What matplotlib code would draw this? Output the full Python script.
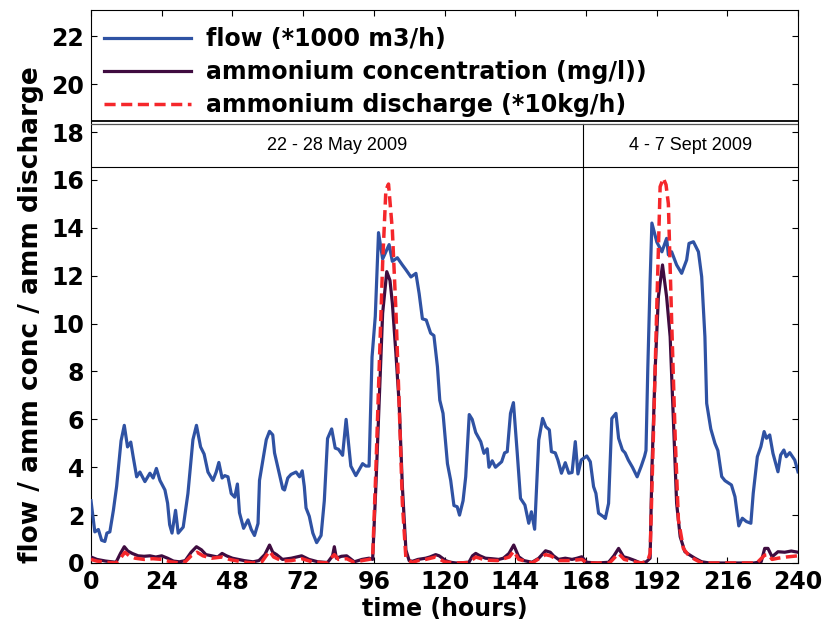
import matplotlib
matplotlib.use("Agg")
import matplotlib.pyplot as plt

# ---------------- data ----------------
flow_t = [0, 1.3, 2.5, 3.6, 4.7, 5.4, 6.4, 7.6, 8.7, 10.2, 11.3, 12.4, 13.5, 14.3, 15.5,
          16.6, 18.3, 20, 21.1, 22.2, 23.4, 25.1, 26, 26.7, 27.5, 28.7, 29.6, 31.3, 32.9,
          34.6, 35.8, 37.2, 38.4, 39.7, 41.4, 42.5, 43.4, 44.5, 45.4, 46.5, 47.6, 48.8,
          49.7, 50.4, 51.8, 53.3, 54.4, 55.5, 56.7, 57.2, 59.5, 60.6, 61.7, 62.3, 63.8,
          65.1, 65.7, 66.8, 67.9, 69.6, 70.8, 71.7, 72.4, 73, 74.1, 75.3, 76.6, 78.1,
          79.2, 80.3, 81.7, 82.9, 84, 85.4, 86.6, 88.2, 89.9, 92.2, 93.3, 94.4, 95.4,
          96.5, 97.6, 99, 100.1, 101.2, 102.3, 104, 105.7, 106.9, 108.6, 110.3, 111.4,
          112.5, 113.8, 115.3, 116.4, 117.6, 118.4, 119.5, 121, 122.1, 123.2, 124.3,
          125.1, 126.3, 127.2, 128.4, 129.4, 130.6, 132.3, 133.4, 134.5, 135.1, 136.2,
          137.3, 139.4, 140.4, 141.3, 142.4, 143.4, 144.7, 145.8, 147.3, 148.6, 149.5,
          150.6, 152, 153.3, 154.4, 155.6, 156.3, 157.6, 158.5, 159.7, 161, 162.2, 163.3,
          164.4, 165.3, 166.4, 168.3, 169.5, 170.6, 171.4, 172.3, 174, 174.6, 175.7,
          176.8, 178.2, 179.1, 180.4, 181.3, 182.4, 183.8, 185.4, 186.8, 187.9, 188.4,
          189, 189.8, 190.4, 192.1, 193.8, 195.4, 196, 197.1, 198.8, 200.5, 202.2, 203,
          204.5, 206.2, 207.3, 208.4, 209, 210.4, 211.8, 212.8, 214.1, 215.2, 217.4,
          218.6, 219.9, 221.1, 222.5, 224, 224.8, 226.2, 227.4, 228.5, 229.3, 230.4,
          231.5, 233.2, 234.1, 235.2, 236, 237.2, 238.9, 240]
flow_v = [2.6, 1.3, 1.4, 0.95, 0.9, 1.25, 1.3, 2.2, 3.2, 5.1, 5.75, 4.85, 5.05, 4.45, 3.6,
          3.8, 3.4, 3.75, 3.55, 3.95, 3.45, 3.05, 2.5, 1.6, 1.25, 2.2, 1.25, 1.5, 2.9,
          5.15, 5.75, 4.85, 4.55, 3.8, 3.45, 3.8, 4.2, 3.55, 3.65, 3.6, 2.9, 2.75,
          3.3, 2.1, 1.45, 1.8, 1.4, 1.15, 1.65, 3.45, 5.15, 5.5, 5.35, 4.6, 3.8,
          3.1, 3.05, 3.55, 3.7, 3.8, 3.6, 3.85, 3.2, 2.3, 1.95, 1.25, 0.85, 1.15,
          2.6, 5.2, 5.6, 4.8, 4.75, 4.5, 6.0, 4.05, 3.65, 4.15, 4.05, 4.05, 8.6,
          10.3, 13.8, 12.7, 13.0, 13.3, 12.6, 12.75, 12.45, 12.25, 11.95, 12.1, 11.25,
          10.2, 10.15, 9.6, 9.5, 8.2, 6.8, 6.25, 4.15, 3.45, 2.4, 2.35,
          2.0, 2.6, 3.6, 6.2, 6.0, 5.45, 5.07, 4.58, 4.77, 4.0, 4.27,
          4.0, 4.23, 4.6, 4.65, 6.25, 6.7, 4.58, 2.7, 2.42, 1.66, 2.14,
          1.41, 5.14, 6.04, 5.69, 5.56, 4.65, 4.6, 4.3, 3.75, 4.19, 3.75, 3.78,
          5.07, 3.72, 4.3, 4.47, 4.23, 3.19, 2.91, 2.08, 1.93, 1.86, 2.49,
          6.04, 6.25, 5.21, 4.72, 4.6, 4.3, 4.0, 3.6, 4.05, 4.45, 4.7,
          8.06, 11.8, 14.2, 13.4, 13.0, 13.56, 12.87, 13.0, 12.45, 12.1, 12.66, 13.35,
          13.42, 13.0, 11.96, 9.45, 6.67, 5.6, 5.0, 4.7, 3.61, 3.44, 3.26,
          2.77, 1.55, 1.87, 1.73, 1.66, 2.91, 4.44, 4.86, 5.49, 5.21, 5.35,
          4.58, 3.81, 4.51, 4.72, 4.44, 4.61, 4.3, 3.81]

conc_t = [0, 2, 5, 8.5, 10, 11.3, 12.5, 14, 16, 18, 20, 22, 24, 26, 28, 30, 32, 34, 35.8,
          37.5, 39, 41, 43, 44.5, 46, 48, 50, 52, 55, 57, 59, 60.6, 61.7, 63, 65, 68, 71.5,
          74, 77, 80.3, 82, 82.6, 83.3, 85, 86.8, 89.4, 92, 94.4, 95.6, 96.7, 97.8, 99,
          100.4, 101.5, 102.3, 103.5, 104.6, 105.7, 106.9, 108, 109.1, 111, 113.6, 115,
          117, 118.2, 120.4, 122, 124, 128.3, 129.5, 130.6, 132, 133.9, 136, 138.4, 140,
          141.9, 143.5, 145.2, 147, 149.7, 152, 154.3, 155.9, 157, 158.7, 161, 163.3, 165,
          166.6, 168.3, 172, 175.7, 177.5, 179.1, 180.8, 182.5, 184.7, 186.5, 188.5, 189.8,
          190.4, 191.5, 192.6, 194, 195.4, 196.6, 197.7, 198.8, 200, 201.6, 203.3, 205,
          207.3, 210, 215, 220, 225, 227.5, 228.7, 229.8, 231.2, 233.2, 235.5, 237.7, 240]
conc_v = [0.25, 0.15, 0.08, 0.03, 0.4, 0.68, 0.5, 0.4, 0.3, 0.28, 0.3, 0.25, 0.3, 0.2, 0.08,
          0.05, 0.1, 0.45, 0.68, 0.55, 0.35, 0.3, 0.25, 0.4, 0.3, 0.2, 0.15, 0.1, 0.05, 0.1,
          0.35, 0.75, 0.45, 0.35, 0.15, 0.2, 0.3, 0.15, 0.05, 0.02, 0.3, 0.68, 0.2, 0.28,
          0.3, 0.05, 0.15, 0.2, 0.15, 3.19, 6.67, 10.43, 12.17, 11.8, 10.85, 8.76, 6.67,
          3.19, 0.54, 0.1, 0.07, 0.15, 0.2, 0.25, 0.35, 0.3, 0.1, 0.03, 0.0, 0.03, 0.3,
          0.4, 0.3, 0.2, 0.18, 0.15, 0.2, 0.4, 0.75, 0.26, 0.1, 0.03, 0.2, 0.51, 0.45, 0.3,
          0.15, 0.2, 0.15, 0.2, 0.26, 0.03, 0.0, 0.03, 0.3, 0.61, 0.26, 0.2, 0.1, 0.0, 0.05,
          0.2, 3.88, 8.06, 11.12, 12.45, 11.12, 9.45, 5.97, 2.49, 1.1, 0.47, 0.33, 0.2,
          0.05, 0.0, 0.0, 0.0, 0.0, 0.05, 0.61, 0.61, 0.26, 0.47, 0.45, 0.5, 0.45]

disc_t = [0, 2, 5, 8.5, 10, 11.5, 13, 15, 18, 21, 24, 27, 30, 32, 34, 36, 38, 41, 44.5, 47,
          51, 55, 58, 60.6, 62, 65, 68, 71.5, 75, 80, 82.6, 84, 86.8, 89.4, 92, 94.4, 95.6,
          96.7, 97.8, 99, 100.1, 101, 102.3, 103.5, 104.6, 105.7, 106.9, 109, 111, 113.6,
          117, 120, 124, 128.3, 130.6, 134, 138, 142, 143.5, 145.2, 149.7, 154.3, 156, 159,
          163, 166.6, 168.3, 176, 179.1, 181, 184.7, 187, 189, 189.8, 190.9, 192.1, 193.2,
          194.3, 195.2, 196, 197.1, 198.3, 199.4, 201.1, 203, 205, 207, 210, 218, 226,
          228.7, 230, 231.2, 233.2, 236, 240]
disc_v = [0.15, 0.08, 0.03, 0.0, 0.2, 0.45, 0.3, 0.2, 0.15, 0.18, 0.15, 0.05, 0.0, 0.05,
          0.3, 0.45, 0.3, 0.2, 0.25, 0.15, 0.05, 0.0, 0.05, 0.5, 0.25, 0.08, 0.1, 0.18,
          0.05, 0.0, 0.35, 0.15, 0.18, 0.02, 0.1, 0.15, 0.2, 3.88, 8.06, 12.52, 15.58,
          15.83, 13.9, 10.57, 6.67, 2.49, 0.2, 0.02, 0.1, 0.15, 0.25, 0.05, 0.0, 0.02,
          0.25, 0.12, 0.1, 0.25, 0.5, 0.15, 0.0, 0.35, 0.3, 0.1, 0.1, 0.15, 0.0, 0.0,
          0.4, 0.15, 0.05, 0.0, 0.1, 0.4, 5.28, 10.85, 15.72, 16.07, 15.8, 15.0, 10.15,
          5.28, 1.8, 0.6, 0.3, 0.15, 0.02, 0.0, 0.0, 0.0, 0.33, 0.35, 0.15, 0.2, 0.25, 0.3]

series_labels = ["flow (*1000 m3/h)", "ammonium concentration (mg/l))",
                 "ammonium discharge (*10kg/h)"]
period_labels = ["22 - 28 May 2009", "4 - 7 Sept 2009"]
period_bounds = [0, 167, 240]
x_ticks = list(range(0, 241, 24))
y_ticks = list(range(0, 23, 2))

# ---------------- figure ----------------
fig = plt.figure(figsize=(8.26, 6.28), dpi=100)
ax = fig.add_axes([91 / 826, 1 - 563 / 628, 707 / 826, 553 / 628])

c_flow = "#2f52a3"
c_conc = "#3f0c40"
c_disc = "#f5272b"

ax.plot(flow_t, flow_v, color=c_flow, lw=2.3, label=series_labels[0], zorder=3)
ax.plot(conc_t, conc_v, color=c_conc, lw=2.3, label=series_labels[1], zorder=4)
ax.plot(disc_t, disc_v, color=c_disc, lw=2.5, ls=(0, (3.2, 1.6)),
        label=series_labels[2], zorder=5)

ax.set_xlim(0, 240)
ax.set_ylim(0, 23.1)
ax.set_xticks(x_ticks)
ax.set_yticks(y_ticks)
ax.tick_params(direction="in", length=4, width=0.8, top=True, right=True,
               labelsize=17, pad=5)
for lab in ax.get_xticklabels() + ax.get_yticklabels():
    lab.set_fontweight("bold")

# header band lines
ax.axhline(18.46, color="black", lw=1.3, zorder=6)
ax.axhline(18.32, color="#555555", lw=0.9, zorder=6)
ax.axhline(16.55, color="black", lw=0.8, zorder=6)
ax.plot([period_bounds[1], period_bounds[1]], [0, 18.32], color="black", lw=0.8, zorder=2)

for i, lab in enumerate(period_labels):
    xc = (period_bounds[i] + period_bounds[i + 1]) / 2
    ax.text(xc, (16.55 + 18.32) / 2, lab, ha="center", va="center",
            fontsize=13, family="Liberation Sans")

leg = ax.legend(loc="upper left", bbox_to_anchor=(0, 0.993), frameon=False,
                handlelength=3.7, handletextpad=0.6, borderaxespad=0.15, borderpad=0.4,
                labelspacing=0.38, prop={"weight": "bold", "size": 17})

ax.set_xlabel("time (hours)", fontsize=17, fontweight="bold", labelpad=2)
ax.set_ylabel("flow / amm conc / amm discharge", fontsize=19, fontweight="bold", labelpad=4)
ax.yaxis.set_label_coords(-0.067, 0.45)

fig.savefig("out.png", dpi=100)
